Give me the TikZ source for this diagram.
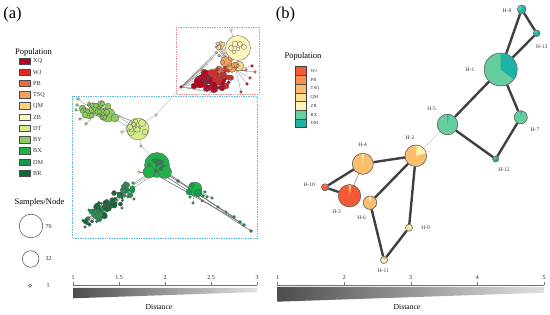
\documentclass[tikz,border=0pt]{standalone}
\usepackage{fontspec}
\setmainfont{Liberation Serif}
\usetikzlibrary{backgrounds}
% panel (a) colours
\definecolor{cXQ}{HTML}{B8001E}
\definecolor{cWJ}{HTML}{E52620}
\definecolor{cPB}{HTML}{F26A3C}
\definecolor{cTSQ}{HTML}{F9A257}
\definecolor{cQM}{HTML}{FDD47E}
\definecolor{cZB}{HTML}{FDF6BD}
\definecolor{cDT}{HTML}{D4EC8A}
\definecolor{cBY}{HTML}{8CCB5C}
\definecolor{cBX}{HTML}{22B04B}
\definecolor{cDM}{HTML}{169A4C}
\definecolor{cBR}{HTML}{0E6A34}
% panel (b) colours
\definecolor{bWJ}{HTML}{F55A35}
\definecolor{bPB}{HTML}{F8904F}
\definecolor{bTSQ}{HTML}{FCBD6D}
\definecolor{bQM}{HTML}{FDE08E}
\definecolor{bZB}{HTML}{FEF5BA}
\definecolor{bBX}{HTML}{66CE9E}
\definecolor{bDM}{HTML}{1AB3A6}
\definecolor{boxred}{HTML}{F28C8C}
\definecolor{boxblue}{HTML}{5AB4E5}

\newif\ifdrawdots
\newcommand\scat[9]{%
  \pgfmathsetseed{#1}%
  \foreach \k in {1,...,#6}{%
    \pgfmathsetmacro\ang{360*rnd}%
    \pgfmathsetmacro\rad{sqrt(rnd)}%
    \pgfmathsetmacro\pr{1+#7*rnd}%
    \pgfmathsetmacro\px{#2+#4*\rad*cos(\ang)}%
    \pgfmathsetmacro\py{#3+#5*\rad*sin(\ang)}%
    \ifdrawdots\draw[adot,fill=#8] (\px,\py) circle[radius=\pr];%
    \else\draw[aedge] (#9) -- (\px,\py);\fi
  }%
}
\newcommand\allscat{%
  \scat{11}{213}{82}{17}{10}{34}{3.2}{cXQ}{hubR}%
  \scat{12}{222}{76}{12}{8}{18}{2.6}{cWJ}{hubR}%
  \scat{13}{229}{66}{10}{6}{10}{2}{cTSQ}{hubO}%
  \scat{14}{221}{50}{6}{8}{8}{1.6}{cQM}{hubO}%
  \scat{21}{97}{112}{17}{9}{36}{2.6}{cBY}{hubBY}%
  \scat{22}{131}{126}{9}{7}{10}{2}{cDT}{hubDT}%
  \scat{31}{157}{166}{9}{7}{18}{1.3}{cDM}{hubBX}%
  \scat{41}{127}{191}{9}{8}{18}{2}{cDM}{hubDa}%
  \scat{42}{116}{199}{8}{7}{14}{1.8}{cBR}{hubDa}%
  \scat{43}{105}{208}{11}{8}{24}{2.2}{cBR}{hubDb}%
  \scat{44}{94}{215}{8}{7}{16}{1.8}{cDM}{hubDb}%
  \scat{45}{88}{222}{5}{5}{8}{1.3}{cBR}{hubDb}%
}
\newcommand\pieslice[5]{\fill[#5] (#1.center) -- ++({-(#2)}:#4) arc[start angle={-(#2)}, end angle={-(#3)}, radius=#4] -- cycle;}
\newcommand\hring[2]{\draw[draw=black!60, line width=0.4pt] (#1.center) circle[radius=#2];}

\begin{document}
\begin{tikzpicture}[x=1pt,y=-1pt,
  aedge/.style={draw=black!50, line width=0.3pt},
  adot/.style={draw=black!65, line width=0.3pt},
  bedge/.style={draw=black!75, line width=2.4pt},
  hnode/.style={circle, draw=black!60, line width=0.4pt, inner sep=0pt},
  hlab/.style={font=\fontsize{5.5}{6}\selectfont, text=black!80},
  swatch/.style={draw=black!70, line width=0.5pt},
  ticklab/.style={font=\fontsize{6}{7}\selectfont, text=black!85},
  axisline/.style={draw=black!55, line width=0.4pt},
  title/.style={font=\fontsize{8.5}{10}\selectfont}]
\useasboundingbox (0,0) rectangle (550,315);

% ---------------- panel labels
\node[font=\fontsize{16.5}{18}\selectfont] (pa) at (12.5,15) {(a)};
\node[font=\fontsize{16.5}{18}\selectfont] (pb) at (285.5,15) {(b)};

% ---------------- panel (a) legend
\node[title] (popa) at (33.5,52) {Population};
\foreach \n [count=\i] in {XQ,WJ,PB,TSQ,QM,ZB,DT,BY,BX,DM,BR}{
  \pgfmathsetmacro\yy{61+11.23*(\i-1)}
  \draw[swatch, fill=c\n] (19.5,\yy-3.2) rectangle (30.5,\yy+3.2);
  \node[anchor=west, font=\fontsize{6.2}{7}\selectfont, text=black!80, inner sep=0pt] (la\i) at (33,\yy) {\n};
}
\node[title] (spn) at (39.5,202) {Samples/Node};
\draw[draw=black!70, line width=0.5pt] (31,226) circle[radius=11.8];
\draw[draw=black!70, line width=0.5pt] (30.7,259) circle[radius=8.3];
\draw[draw=black!70, line width=0.5pt] (30,285.7) circle[radius=1.6];
\node[ticklab] (s70) at (48.5,226.7) {70};
\node[ticklab] (s32) at (48.5,259) {32};
\node[ticklab] (s1) at (48,286) {1};

% ---------------- panel (a) boxes
\draw[boxred, densely dotted, line width=0.7pt] (176,27) rectangle (259,94);
\draw[boxblue, densely dotted, line width=0.7pt] (72,96) rectangle (257,238);

% ---------------- panel (a) hubs
\coordinate (redtip) at (181,87);
\coordinate (hubR) at (214,80);
\coordinate (hubO) at (228,62);
\coordinate (hubBY) at (98,113);
\coordinate (hubDT) at (136,127);
\coordinate (dtU) at (156,115);
\coordinate (hubBX) at (157,166);
\coordinate (hubDa) at (124,193);
\coordinate (hubDb) at (102,209);

% explicit links
\foreach \x/\y in {196/80,199/75,204/70,208/64,213/58,218/52,222/46,200/88,207/91,214/93,192/84}
  \draw[aedge] (redtip) -- (\x,\y);
\draw[aedge] (231,30) -- (234,40);
\foreach \x/\y in {252/66,255/72,250/78,247/84,241/92,246/70}
  \draw[aedge] (236,70) -- (\x,\y);
\draw[draw=black!28, line width=0.4pt] (hubDT) -- (dtU) -- (redtip);
\foreach \x/\y in {78/99,77/105,76/110,80/119,86/124,89/103,84/107}
  \draw[aedge] (hubBY) -- (\x,\y);
\foreach \a/\b/\c/\d in {108/112/135/122,112/117/130/128,104/109/140/125,115/114/138/130}
  \draw[aedge] (\a,\b) -- (\c,\d);
\draw[aedge] (hubDT) -- (122,132);
\draw[draw=black!30, line width=0.4pt] (140,138) -- (141,146) -- (152,156);
\foreach \a/\b/\c/\d in {148/174/133/184,150/175/128/188,146/172/139/172,152/176/124/194}
  \draw[aedge] (\a,\b) -- (\c,\d);
\foreach \a/\b/\c/\d in {162/174/251/231,166/172/244/225,160/177/240/222,168/175/234/217}
  \draw[draw=black!55, line width=0.6pt] (\a,\b) -- (\c,\d);
\foreach \x/\y in {190/197,193/203,203/196,207/197,212/198,205/192,202/201}
  \draw[aedge] (195,189) -- (\x,\y);

\drawdotsfalse
\allscat

% big circles
\foreach \x/\y/\r/\c in {
  200/82/6/cXQ, 210/80/4.2/cXQ, 214/89/3.8/cXQ, 222/80/4/cXQ, 204/72/3/cWJ,
  194/86/3/cXQ, 226/86/3/cWJ, 207/88/3.5/cXQ, 216/74/3.5/cWJ,
  226/62/5.5/cTSQ, 232/68/4.5/cTSQ, 219/70/4/cPB, 239/66/5/cQM, 231/58/3/cTSQ,
  238/48/12.5/cZB,
  138/129/11/cDT, 108/115/7/cBY, 100/112/5/cBY, 93/110/4/cBY, 115/118/4/cBY, 89/116/3/cBY,
  157/165/12.5/cBX, 149/172/6/cBX, 165/172/6.5/cBX,
  107/207/5/cBR, 100/210/4/cDM, 113/204/3.5/cDM, 125/190/3.5/cDM, 120/195/3/cBR, 95/215/3/cDM,
  195/189/7/cBX, 198/193/4/cDM, 189/192/3/cDM, 192/185/2.5/cDM}
  \draw[adot, fill=\c] (\x,\y) circle[radius=\r];
\foreach \x/\y/\r in {231/48/2.5, 235/44/3, 240/44/2.5, 244/47/2.5, 238/49/2, 234/52/2,
  142/123/3.5, 134/124/3, 131/132/3.5, 145/132/2.8}
  \draw[adot] (\x,\y) circle[radius=\r];

\drawdotstrue
\allscat

% small outliers
\foreach \x/\y/\r/\c in {
  252/66/1.5/cXQ, 255/72/1.5/cPB, 250/78/1.5/cWJ, 247/84/1.5/cXQ, 241/92/1.3/cWJ,
  246/70/1.5/cPB, 231/30/1.5/cZB, 181/87/1.5/cXQ,
  78/99/1.5/cBY, 77/105/1.5/cBY, 76/110/1.5/cBY, 80/119/1.5/cBY, 86/124/1.5/cBY,
  89/103/1.5/cBY, 84/107/1.5/cBY,
  156/115/1.5/cDT, 122/132/1.5/cDT, 141/146/1.3/cZB, 139/172/1.5/cDT,
  134/199/1.4/cDM, 122/208/1.3/cDM, 85/227/1.3/cBR, 133/183/1.5/cDM,
  178/181/1.7/cDM, 218/207/1.4/cDM, 226/212/1.4/cDM, 234/217/1.6/cDM, 240/222/1.6/cDM,
  244/225/1.6/cDM, 251/231/1.7/cDM, 190/197/1.5/cDM, 193/203/1.3/cDM, 203/196/1.5/cDM,
  207/197/1.3/cDM, 212/198/1.3/cDM, 205/192/1.5/cDM, 202/201/1.2/cDM}
  \draw[adot, fill=\c] (\x,\y) circle[radius=\r];

% ---------------- panel (a) distance bar
\draw[axisline] (73,285) -- (257,285);
\foreach \x/\t in {73/1,119/1.5,165/2,211/2.5,257/3}{
  \draw[axisline] (\x,282.5) -- (\x,285);
  \node[ticklab] at (\x,278) {\t};
}
\shade[left color=black!70, right color=black!12] (73,288) -- (257,288) -- (257,292) -- (73,298.3) -- cycle;
\node[font=\fontsize{7.6}{9}\selectfont] (dista) at (159,307) {Distance};

% ---------------- panel (b) legend
\node[title] (popb) at (303,56.7) {Population};
\foreach \n [count=\i] in {WJ,PB,TSQ,QM,ZB,BX,DM}{
  \pgfmathsetmacro\yy{66.7+8.7*(\i-1)}
  \fill[b\n] (295,\yy) rectangle (306.7,\yy+8.7);
  \node[anchor=west, font=\fontsize{4.6}{5}\selectfont, text=black!80, inner sep=0pt] (lb\i) at (310.5,\yy+4.35) {\n};
}
\foreach \i in {1,...,6}{
  \pgfmathsetmacro\yy{66.7+8.7*\i}
  \draw[draw=black!70, line width=0.5pt] (295,\yy) -- (306.7,\yy);
}
\draw[draw=black!75, line width=0.7pt] (295,66.7) rectangle (306.7,127.6);

% ---------------- panel (b) haplotype nodes
\node[hnode, minimum size=33pt, fill=bBX] (h1) at (500.7,69.5) {};
\node[hnode, minimum size=8.6pt, fill=bDM] (h8) at (521.7,9.3) {};
\node[hnode, minimum size=6.5pt, fill=bDM] (h13) at (536.7,33.3) {};
\node[hnode, minimum size=20.5pt, fill=bBX] (h5) at (447.5,124.5) {};
\node[hnode, minimum size=13pt, fill=bBX] (h7) at (520.8,117.3) {};
\node[hnode, minimum size=6pt, fill=bDM] (h12) at (495.7,159) {};
\node[hnode, minimum size=21.6pt, fill=bTSQ] (h2) at (415.8,155.8) {};
\node[hnode, minimum size=21pt, fill=bTSQ] (h4) at (362.8,163.8) {};
\node[hnode, minimum size=7pt, fill=bWJ] (h10) at (325,187.3) {};
\node[hnode, minimum size=22.4pt, fill=bWJ] (h3) at (349.5,195.8) {};
\node[hnode, minimum size=13.4pt, fill=bTSQ] (h6) at (370,202.7) {};
\node[hnode, minimum size=7pt, fill=bZB] (h9) at (409,227.7) {};
\node[hnode, minimum size=7pt, fill=bZB] (h11) at (384,260) {};

\begin{scope}[on background layer]
  \draw[bedge] (h1) -- (h8);
  \draw[bedge] (h8) -- (h13);
  \draw[bedge] (h13) -- (h1);
  \draw[bedge] (h1) -- (h5);
  \draw[bedge] (h1) -- (h7);
  \draw[bedge] (h7) -- (h12);
  \draw[bedge] (h5) -- (h12);
  \draw[bedge] (h2) -- (h4);
  \draw[bedge] (h4) -- (h10);
  \draw[bedge] (h10) -- (h3);
  \draw[bedge] (h2) -- (h6);
  \draw[bedge] (h2) -- (h9);
  \draw[bedge] (h6) -- (h11);
  \draw[bedge] (h9) -- (h11);
  \draw[draw=black!22, line width=0.5pt] (h5) -- (h2);
  \draw[draw=black!45, line width=0.6pt] (h4) -- (h3);
\end{scope}

% pie slices (visual angles, counter-clockwise)
\pieslice{h1}{-38}{90}{16.3}{bDM}
\pieslice{h8}{90}{200}{4.1}{bBX}
\pieslice{h13}{90}{150}{3}{bBX}
\pieslice{h5}{82}{92}{10}{bDM}
\pieslice{h7}{80}{95}{6.3}{bDM}
\pieslice{h12}{90}{160}{2.8}{bBX}
\pieslice{h2}{15}{78}{10.6}{bZB}
\pieslice{h2}{78}{90}{10.6}{bQM}
\pieslice{h4}{85}{95}{10.3}{bZB}
\pieslice{h3}{80}{95}{11}{bTSQ}
\pieslice{h6}{80}{100}{6.5}{bZB}
\pieslice{h9}{90}{270}{3.3}{bQM}
\pieslice{h11}{30}{120}{3.3}{bTSQ}
\pieslice{h10}{60}{110}{3.3}{bPB}
\hring{h1}{16.5}\hring{h8}{4.3}\hring{h13}{3.25}\hring{h5}{10.25}\hring{h7}{6.5}
\hring{h12}{3}\hring{h2}{10.8}\hring{h4}{10.5}\hring{h10}{3.5}\hring{h3}{11.2}
\hring{h6}{6.7}\hring{h9}{3.5}\hring{h11}{3.5}

% labels
\node[hlab] (lh1) at (470,70) {H-1};
\node[hlab] (lh8) at (507,11) {H-8};
\node[hlab] (lh13) at (541.7,46.7) {H-13};
\node[hlab] (lh5) at (431.7,108.3) {H-5};
\node[hlab] (lh7) at (535,130) {H-7};
\node[hlab] (lh12) at (504,170) {H-12};
\node[hlab] (lh2) at (410,137.3) {H-2};
\node[hlab] (lh4) at (362.7,144.3) {H-4};
\node[hlab] (lh10) at (309.3,185) {H-10};
\node[hlab] (lh3) at (336.7,211.7) {H-3};
\node[hlab] (lh6) at (361.7,217.3) {H-6};
\node[hlab] (lh9) at (425.7,228) {H-9};
\node[hlab] (lh11) at (383.3,271) {H-11};

% ---------------- panel (b) distance bar
\draw[axisline] (277,285) -- (544,285);
\foreach \x/\t in {277.3/1,344/2,410.7/3,477.3/4,544/5}{
  \draw[axisline] (\x,282.5) -- (\x,285);
  \node[ticklab] at (\x,277.3) {\t};
}
\shade[left color=black!70, right color=black!12] (277,287) -- (544,287) -- (544,292.7) -- (277,301.7) -- cycle;
\node[font=\fontsize{7.6}{9}\selectfont] (distb) at (407,307) {Distance};
\end{tikzpicture}
\end{document}
